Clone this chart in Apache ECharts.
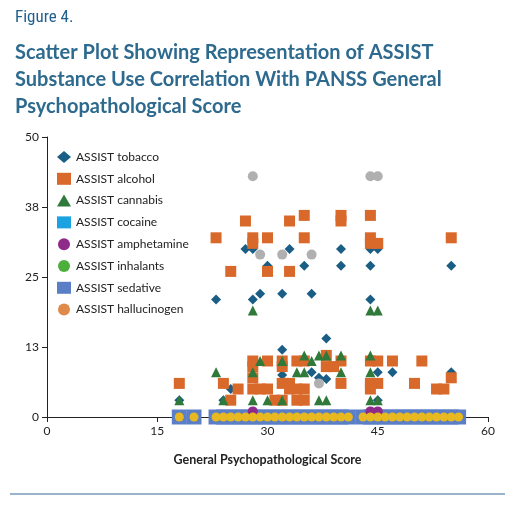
<!DOCTYPE html>
<html>
<head>
<meta charset="utf-8">
<script src="https://cdn.jsdelivr.net/npm/echarts@6/dist/echarts.min.js"></script>
<style>
  html, body { margin: 0; padding: 0; background: #fff; }
  #chart { width: 515px; height: 517px; }
</style>
</head>
<body>
<div id="chart"></div>
<script>
// values: [score, ASSIST]
const tobacco = [
  [27, 30], [28, 30], [33, 30], [40, 30], [44, 30], [45, 30],
  [30, 27], [35, 27], [40, 27], [44, 27], [55, 27],
  [23, 21], [28, 21], [44, 21], [29, 22], [32, 22], [36, 22],
  [38, 14], [32, 12], [36, 8], [45, 8], [47, 8], [55, 8],
  [32, 7.5], [37, 7], [38, 6.8], [25, 5], [18, 3], [24, 3], [45, 3]
];
const alcohol = [
  [27, 35], [33, 35], [35, 36], [40, 36], [40, 35], [44, 36],
  [23, 32], [28, 32], [28, 31], [30, 32], [35, 32], [44, 32], [44, 31], [45, 31], [55, 32],
  [25, 26], [30, 26], [33, 26],
  [28, 10], [28, 9], [30, 10], [32, 10], [32, 9], [34, 10], [35, 10], [38, 11], [38, 9],
  [39, 9], [40, 10], [44, 10], [45, 10], [47, 10], [51, 10],
  [28, 7], [32, 6], [33, 6], [40, 6], [44, 6], [45, 6], [55, 7], [18, 6], [24, 6], [50, 6],
  [26, 5], [28, 5], [29, 5], [30, 5], [33, 5], [34, 5], [35, 5], [44, 5], [53, 5], [54, 5],
  [25, 3], [31, 3], [32, 3], [34, 3], [35, 3]
];
const cannabis = [
  [28, 19], [44, 19], [45, 19],
  [29, 10], [32, 10], [35, 11], [36, 10], [37, 11], [38, 11], [40, 11], [44, 11],
  [23, 8], [28, 8], [34, 8], [35, 8], [40, 8], [44, 8],
  [18, 3], [24, 3], [28, 3], [30, 3], [32, 3], [37, 3], [38, 3], [44, 3], [45, 3]
];
const cocaine = [];
const amphetamine = [[28, 1], [44, 1], [45, 1]];
const inhalants = [];
const unlabeledGrey = [[28, 43], [44, 43], [45, 43], [29, 29], [32, 29], [36, 29], [37, 6]];
const zeroScores = [18, 20, 23, 24, 25, 26, 27, 28, 29, 30, 31, 32, 33, 34, 35, 36, 37, 38, 39, 40, 41,
  43, 44, 45, 46, 47, 48, 49, 50, 51, 52, 53, 54, 55, 56];
const sedative = zeroScores.map(x => [x, 0]);
const hallucinogen = [];
const zeroDots = zeroScores.map(x => [x, 0]);

const font = "Lato, 'Open Sans', sans-serif";
const chart = echarts.init(document.getElementById("chart"));

function series(name, data, symbol, color, size) {
  return { name, type: "scatter", data, symbol, symbolSize: size, itemStyle: { color, opacity: 1 } };
}

chart.setOption({
  animation: false,
  textStyle: { fontFamily: font },
  title: [
    { text: "Figure 4.", left: 10, top: 4, textStyle: { fontSize: 17, fontWeight: "normal", color: "#1f5f8c", fontFamily: "'Roboto Condensed', 'Liberation Sans Narrow', Roboto, sans-serif" } },
    { text: "Scatter Plot Showing Representation of ASSIST\nSubstance Use Correlation With PANSS General\nPsychopathological Score",
      left: 10, top: 34, textStyle: { fontSize: 20, fontWeight: "bold", color: "#2e6a8e", lineHeight: 27, fontFamily: font } }
  ],
  legend: {
    orient: "vertical", left: 52, top: 146, itemGap: 9.8, itemWidth: 14, itemHeight: 12,
    textStyle: { fontSize: 12, color: "#222", fontFamily: font },
    data: ["ASSIST tobacco", "ASSIST alcohol", "ASSIST cannabis", "ASSIST cocaine",
      "ASSIST amphetamine", "ASSIST inhalants", "ASSIST sedative", "ASSIST hallucinogen"]
  },
  grid: { left: 47, right: 27, top: 137, bottom: 100 },
  xAxis: {
    type: "value", min: 0, max: 60, interval: 15,
    name: "General Psychopathological Score", nameLocation: "middle", nameGap: 36,
    nameTextStyle: { fontSize: 12.5, fontWeight: "bold", color: "#222" },
    axisLine: { lineStyle: { color: "#222" } }, axisTick: { lineStyle: { color: "#222" } },
    axisLabel: { color: "#222", fontSize: 12 }, splitLine: { show: false }
  },
  yAxis: {
    type: "value", min: 0, max: 50, interval: 12.5,
    axisLine: { show: true, lineStyle: { color: "#222" } }, axisTick: { show: true, lineStyle: { color: "#222" } },
    axisLabel: { color: "#222", fontSize: 12, formatter: v => String(Math.round(v)) }, splitLine: { show: false }
  },
  series: [
    series("ASSIST sedative", sedative, "rect", "#5b7fc6", 15),
    series("ASSIST tobacco", tobacco, "diamond", "#1a5e85", 10),
    series("ASSIST alcohol", alcohol, "rect", "#d8692a", 11),
    series("ASSIST cannabis", cannabis, "triangle", "#2f7a3a", 10),
    series("ASSIST cocaine", cocaine, "rect", "#1aa3e0", 11),
    series("ASSIST amphetamine", amphetamine, "circle", "#8e2a8a", 10),
    series("ASSIST inhalants", inhalants, "circle", "#4caf3c", 10),
    series("ASSIST hallucinogen", hallucinogen, "circle", "#e08a4a", 10),
    series("grey", unlabeledGrey, "circle", "#b0b0b0", 10),
    series("zero", zeroDots, "circle", "#e8b820", 9)
  ],
  graphic: [
    { type: "line", shape: { x1: 10, y1: 494, x2: 505, y2: 494 }, style: { stroke: "#7a9ab8", lineWidth: 1.5 } }
  ]
});
</script>
</body>
</html>
